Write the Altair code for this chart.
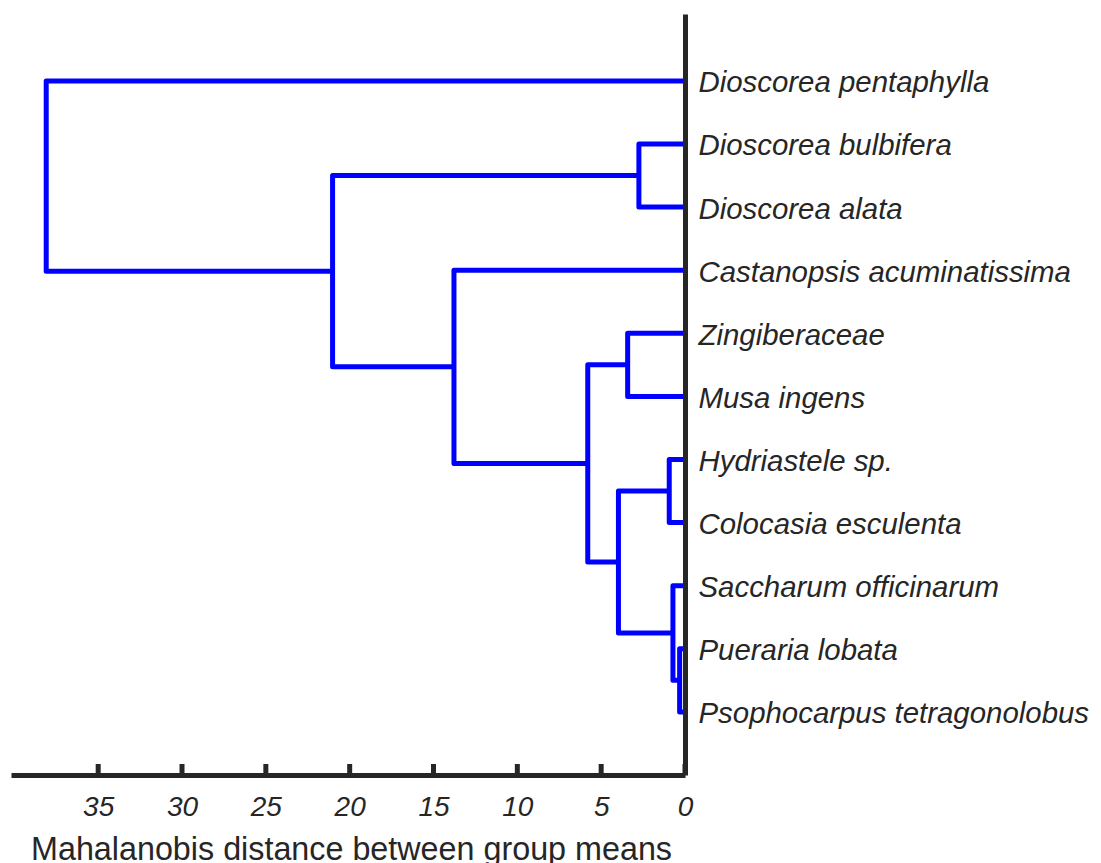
import altair as alt
import pandas as pd

# Leaves (top to bottom)
leaves = [
    "Dioscorea pentaphylla",
    "Dioscorea bulbifera",
    "Dioscorea alata",
    "Castanopsis acuminatissima",
    "Zingiberaceae",
    "Musa ingens",
    "Hydriastele sp.",
    "Colocasia esculenta",
    "Saccharum officinarum",
    "Pueraria lobata",
    "Psophocarpus tetragonolobus",
]

# Linkage: node ids 1..11 are leaves, 12.. are clusters (in merge order)
merge_left = [10, 9, 7, 2, 5, 14, 16, 4, 15, 1]
merge_right = [11, 12, 8, 3, 6, 13, 17, 18, 19, 20]
merge_height = [0.32, 0.72, 0.94, 2.75, 3.42, 3.97, 5.80, 13.78, 21.02, 38.1]

tick_values = [0, 5, 10, 15, 20, 25, 30, 35]

# Build U-shaped links
pos = {i + 1: (0.0, float(i + 1)) for i in range(len(leaves))}
rows = []
for k, (l, r, h) in enumerate(zip(merge_left, merge_right, merge_height)):
    node = len(leaves) + 1 + k
    hl, yl = pos[l]
    hr, yr = pos[r]
    pts = [(hl, yl), (h, yl), (h, yr), (hr, yr)]
    for j, (px, py) in enumerate(pts):
        rows.append({"link": node, "ord": j, "dist": px, "leaf": py})
    pos[node] = (h, (yl + yr) / 2)
links = pd.DataFrame(rows)
ticks = pd.DataFrame({"t": tick_values})

W, H = 674, 761
DARK = "#262626"
FONT = "Liberation Sans"

label_expr = "[" + ",".join("'" + n + "'" for n in leaves) + "][datum.value - 1]"

xscale = alt.Scale(domain=[0, 40.2], reverse=True, nice=False, zero=False)
yscale = alt.Scale(domain=[-0.06, 12], reverse=True, nice=False, zero=False)

dendro = alt.Chart(links).mark_line(
    color="#0000FF", strokeWidth=5, strokeJoin="round", strokeCap="butt"
).encode(
    x=alt.X("dist:Q", scale=xscale, axis=alt.Axis(
        orient="bottom", values=tick_values, ticks=False, tickSize=0,
        domain=True, domainWidth=5, domainColor=DARK,
        labelFont=FONT, labelFontSize=28, labelFontStyle="italic",
        labelColor=DARK, labelPadding=18, labelFlush=False, grid=False,
        title="Mahalanobis distance between group means",
        titleFont=FONT, titleFontSize=32.3, titleFontWeight="normal",
        titleColor=DARK, titleBaseline="alphabetic", titleY=84,
        titleAlign="center", titleX=340,
        zindex=1,
    )),
    y=alt.Y("leaf:Q", scale=yscale, axis=alt.Axis(
        orient="right", values=list(range(1, len(leaves) + 1)),
        labelExpr=label_expr, ticks=False, tickSize=0,
        domain=True, domainWidth=5, domainColor=DARK,
        labelFont=FONT, labelFontSize=29.4, labelFontStyle="italic",
        labelColor=DARK, labelPadding=13, labelAlign="left",
        labelBaseline="middle", labelOffset=2, labelLimit=0,
        grid=False, title=None, zindex=1,
    )),
    detail="link:N",
    order="ord:Q",
)

tickmarks = alt.Chart(ticks).mark_rule(color=DARK, strokeWidth=5).encode(
    x=alt.X("t:Q", scale=xscale),
    y=alt.value(H - 11),
    y2=alt.value(H),
)

chart = alt.layer(dendro, tickmarks).properties(
    width=W, height=H,
    autosize=alt.AutoSizeParams(type="none"),
    padding={"left": 11, "top": 14, "right": 1101 - 11 - W, "bottom": 863 - 14 - H},
    background="white",
).configure_view(stroke=None)

chart.save("out.html", embed_options={"renderer": "svg", "actions": False})
